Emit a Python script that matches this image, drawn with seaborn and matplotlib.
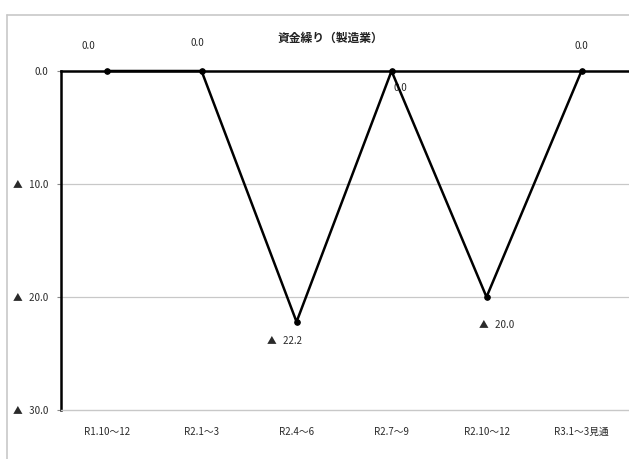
import matplotlib
matplotlib.use("Agg")
import matplotlib.pyplot as plt
from matplotlib.lines import Line2D
import seaborn as sns
import pandas as pd

# 資金繰り DI（製造業）
periods = ["R1.10〜12", "R2.1〜3", "R2.4〜6", "R2.7〜9", "R2.10〜12", "R3.1〜3見通"]
values = [0.0, 0.0, -22.2, 0.0, -20.0, 0.0]
y_ticks = [0, -10, -20, -30]
title = "資金繰り（製造業）"

# label offsets (points) for each data label
label_offsets = [(-13, 18), (-3, 20), (-9, -14), (6, -12), (7, -20), (0, 18)]

sns.set_theme(style="white")
plt.rcParams["font.family"] = ["Noto Sans CJK JP", "DejaVu Sans"]

def fmt(v, gap=" "):
    if v < 0:
        return f"▲{gap}{abs(v):.1f}"
    return f"{abs(v):.1f}"

df = pd.DataFrame({"x": range(len(periods)), "value": values})

fig = plt.figure(figsize=(6.29, 4.59), dpi=100)
ax = fig.add_axes([61 / 629, 1 - 410 / 459, (629 - 61) / 629, (410 - 71) / 459])

# light outer frame
fig.add_artist(Line2D([7 / 629, 7 / 629], [0, 1 - 15 / 459], transform=fig.transFigure,
                      color="#c8c8c8", lw=1.2))
fig.add_artist(Line2D([7 / 629, 1], [1 - 15 / 459, 1 - 15 / 459], transform=fig.transFigure,
                      color="#c8c8c8", lw=1.2))

for yv in (-10, -20):
    ax.axhline(yv, color="#c8c8c8", lw=0.9, zorder=0)

sns.lineplot(data=df, x="x", y="value", ax=ax, color="black", lw=1.8,
             marker="o", markersize=4, markeredgecolor="black", zorder=5)
for ln in ax.lines:
    ln.set_clip_on(False)

for i, v in enumerate(values):
    dx, dy = label_offsets[i]
    ax.annotate(fmt(v, "   "), (i, v), xytext=(dx, dy), textcoords="offset points",
                ha="center", va="center", fontsize=7, color="#2a2a2a")

ax.set_xlim(-0.48, len(periods) - 0.5)
ax.set_ylim(-30, 0)
ax.set_yticks(y_ticks)
ax.set_yticklabels([fmt(v, "   ") for v in y_ticks], fontsize=7, color="#2a2a2a")
ax.set_xticks(range(len(periods)))
ax.set_xticklabels(periods, fontsize=7, color="#2a2a2a")
ax.set_xlabel("")
ax.set_ylabel("")
ax.tick_params(axis="x", length=0, pad=12)
ax.tick_params(axis="y", length=3, width=0.8, color="#888888", left=True, pad=6)

ax.spines["left"].set_color("black")
ax.spines["left"].set_linewidth(1.8)
ax.spines["top"].set_color("black")
ax.spines["top"].set_linewidth(1.8)
ax.spines["bottom"].set_color("#c8c8c8")
ax.spines["bottom"].set_linewidth(1.0)
ax.spines["right"].set_visible(False)

fig.text(330 / 629, 1 - 38 / 459, title, ha="center", va="center", fontsize=8.5,
         fontweight="bold", color="#222222")

fig.savefig("out.png", dpi=100)
